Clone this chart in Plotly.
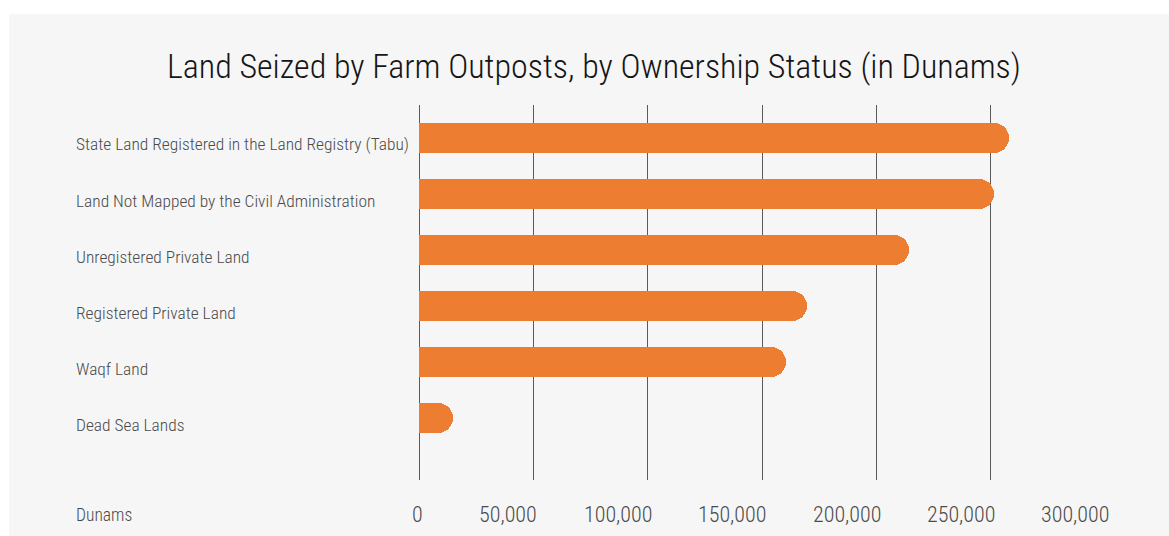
import plotly.graph_objects as go

# Data
categories = [
    "State Land Registered in the Land Registry (Tabu)",
    "Land Not Mapped by the Civil Administration",
    "Unregistered Private Land",
    "Registered Private Land",
    "Waqf Land",
    "Dead Sea Lands",
]
dunams = [257900, 251300, 214400, 169400, 160500, 14900]
tick_values = [0, 50000, 100000, 150000, 200000, 250000, 300000]
tick_labels = ["0", "50,000", "100,000", "150,000", "200,000", "250,000", "300,000"]
title_text = "Land Seized by Farm Outposts, by Ownership Status (in Dunams)"
axis_unit = "Dunams"

W, H = 1169, 536
ML, MR, MT, MB = 419, 63, 105, 56
PW, PH = W - ML - MR, H - MT - MB

FONT = "Roboto Condensed, DejaVu Sans Condensed, sans-serif"
ORANGE = "#ED7D31"
GRID = "#5a5a5a"
LABEL = "#4a4a4a"


def px_x(p):
    return (p - ML) / PW


def px_y(p):
    return (H - MB - p) / PH


fig = go.Figure()
fig.add_trace(go.Bar(
    x=dunams,
    y=list(range(len(categories))),
    orientation="h",
    width=0.536,
    marker=dict(color=ORANGE, line=dict(width=0), cornerradius=15),
    hoverinfo="skip",
))

annotations = [
    dict(text=title_text, xref="paper", yref="paper", x=px_x(594), y=px_y(66),
         xanchor="center", yanchor="middle", showarrow=False,
         font=dict(family=FONT, size=34, color="#151515", weight=300)),
    dict(text=axis_unit, xref="paper", yref="paper", x=px_x(74), y=px_y(515),
         xanchor="left", yanchor="middle", showarrow=False,
         font=dict(family=FONT, size=17.5, color=LABEL, weight=300)),
]
# Category names, left-aligned in the margin
for i, name in enumerate(categories):
    annotations.append(dict(
        text=name, xref="paper", yref="y", x=px_x(74), y=i + 0.11,
        xanchor="left", yanchor="middle", showarrow=False,
        font=dict(family=FONT, size=17.4, color=LABEL, weight=300),
    ))
# Value-axis labels, right-aligned just past each gridline
for v, t in zip(tick_values, tick_labels):
    annotations.append(dict(
        text=t, xref="x", yref="paper", x=v, y=px_y(514.5), xshift=6,
        xanchor="right", yanchor="middle", showarrow=False,
        font=dict(family=FONT, size=22, color=LABEL, weight=300),
    ))

fig.update_layout(
    width=W, height=H,
    margin=dict(l=ML, r=MR, t=MT, b=MB, pad=0),
    paper_bgcolor="white",
    plot_bgcolor="rgba(0,0,0,0)",
    showlegend=False,
    bargap=0,
    annotations=annotations,
    shapes=[dict(type="rect", xref="paper", yref="paper", layer="below",
                 x0=px_x(9), x1=px_x(1175), y0=px_y(540), y1=px_y(14),
                 fillcolor="#f6f6f6", line=dict(width=0))],
    xaxis=dict(
        range=[0, 300300], tickvals=tick_values, showticklabels=False,
        showgrid=True, gridcolor=GRID, gridwidth=1,
        zeroline=True, zerolinecolor=GRID, zerolinewidth=1,
        showline=False, ticks="", fixedrange=True,
    ),
    yaxis=dict(
        range=[6.10, -0.595], showticklabels=False, showgrid=False,
        zeroline=False, showline=False, ticks="", fixedrange=True,
    ),
)

fig.write_html("out.html")
